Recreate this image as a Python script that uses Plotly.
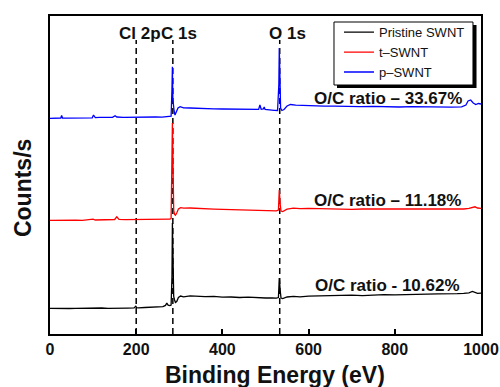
import plotly.graph_objects as go

# XPS survey spectra of the three SWNT samples (vertically offset, arbitrary counts)
pristine_x = [0, 15, 30, 45, 60, 75, 90, 105, 120, 135, 150, 165, 180, 195, 199, 201, 205, 220, 235, 250,
              262, 268, 271, 274, 278, 281, 283, 284, 285, 286, 287, 289, 291, 294, 298, 303, 310, 325, 340,
              360, 380, 400, 420, 440, 460, 480, 500, 515, 525, 530, 532, 534, 536, 540, 550, 565, 580, 600,
              625, 650, 675, 700, 725, 750, 775, 800, 825, 850, 875, 900, 925, 945, 960, 972, 980, 986, 992, 1000]
pristine_y = [25.6, 25.4, 25.8, 25.5, 25.7, 25.9, 25.6, 25.8, 26.0, 25.7, 26.0, 26.2, 25.9, 26.1, 27.8, 26.4,
              26.2, 26.5, 26.8, 26.7, 27.3, 28.6, 31.0, 28.8, 28.4, 29.0, 58.0, 111.0, 70.0, 45.0, 37.5, 34.0,
              31.5, 32.5, 36.5, 38.0, 37.2, 38.1, 37.6, 37.3, 37.7, 36.9, 37.0, 36.5, 36.8, 36.3, 36.0, 36.2,
              35.8, 36.5, 56.0, 44.0, 36.0, 35.5, 37.0, 37.6, 37.2, 37.9, 38.3, 38.0, 38.6, 38.9, 38.4, 39.0,
              39.3, 39.1, 39.6, 39.4, 39.9, 40.1, 39.8, 40.3, 40.6, 41.2, 42.5, 41.8, 40.7, 40.9]

t_x = [0, 15, 30, 45, 60, 75, 90, 100, 105, 120, 135, 150, 155, 160, 175, 190, 205, 220, 235, 250, 265, 278,
       281, 283, 284, 285, 286, 287, 289, 291, 294, 298, 303, 310, 325, 340, 360, 380, 400, 420, 440, 460, 480,
       500, 515, 525, 530, 532, 534, 536, 540, 550, 565, 580, 600, 625, 650, 675, 700, 725, 750, 775, 800, 825,
       850, 875, 900, 925, 945, 960, 972, 980, 986, 992, 1000]
t_y = [113.7, 113.9, 113.6, 113.8, 113.9, 113.7, 114.0, 114.8, 114.0, 114.1, 114.2, 114.5, 117.2, 114.6, 114.4,
       114.5, 114.3, 114.6, 114.5, 114.7, 114.6, 114.8, 115.5, 160.0, 211.0, 180.0, 140.0, 124.0, 119.5, 118.8,
       121.0, 125.0, 126.3, 125.8, 126.0, 125.5, 125.2, 124.9, 124.6, 124.3, 124.0, 123.8, 123.9, 123.4, 123.5,
       123.2, 124.0, 144.0, 130.0, 123.0, 122.5, 124.8, 125.9, 125.4, 125.7, 125.3, 125.1, 124.8, 124.7, 125.0,
       124.9, 125.2, 125.0, 124.8, 125.1, 124.9, 125.0, 125.2, 124.8, 125.0, 125.6, 126.8, 127.2, 126.0, 125.7]

p_x = [0, 10, 20, 25, 27, 29, 40, 55, 70, 85, 98, 101, 103, 105, 115, 130, 145, 151, 155, 170, 185, 200, 215,
       230, 245, 260, 275, 281, 283, 284, 285, 286, 287, 288, 290, 293, 297, 302, 310, 325, 340, 360, 380, 400,
       420, 440, 460, 475, 484, 487, 490, 495, 497, 499, 510, 520, 528, 531, 532, 533, 535, 538, 543, 550, 558,
       570, 590, 610, 635, 660, 690, 720, 750, 780, 810, 840, 870, 900, 930, 955, 965, 970, 976, 982, 988, 994,
       1000]
p_y = [215.6, 215.8, 215.5, 216.0, 218.5, 216.0, 215.9, 216.0, 216.1, 215.9, 216.2, 219.0, 218.0, 216.4, 216.7,
       216.5, 216.6, 218.2, 217.0, 216.6, 216.8, 216.7, 216.9, 216.8, 217.0, 216.9, 217.1, 217.8, 245.0, 267.3,
       235.0, 226.0, 228.5, 223.0, 219.0, 221.5, 226.0, 227.3, 226.2, 226.0, 225.6, 225.8, 225.2, 225.0, 224.8,
       224.6, 224.4, 224.3, 224.6, 229.0, 224.8, 225.0, 227.0, 224.5, 223.8, 223.6, 223.5, 250.0, 286.0, 250.0,
       226.0, 223.5, 224.5, 228.0, 229.5, 228.8, 228.3, 228.0, 227.8, 227.9, 227.5, 227.3, 227.6, 227.2, 227.0,
       227.3, 226.9, 227.0, 226.8, 227.2, 229.0, 233.0, 234.0, 231.0, 229.5, 230.5, 230.0]

series_names = ["Pristine SWNT", "t\u2013SWNT", "p\u2013SWNT"]
series_colors = ["#000000", "#ff0000", "#0000ff"]

# Core-level reference energies (eV) and their labels
peak_energies = [200, 285, 533]
peak_labels = ["Cl 2p", "C 1s", "O 1s"]
peak_label_x = [208, 299, 550]

ratio_labels = ["O/C ratio - 10.62%", "O/C ratio \u2013 11.18%", "O/C ratio \u2013 33.67%"]
ratio_label_y = [0.151, 0.421, 0.742]

x_ticks = [0, 200, 400, 600, 800, 1000]

FONT = "Liberation Sans, Arial, sans-serif"
INK = "#111111"

fig = go.Figure()
for xs, ys, name, color in zip([pristine_x, t_x, p_x], [pristine_y, t_y, p_y], series_names, series_colors):
    fig.add_trace(go.Scatter(x=xs, y=ys, mode="lines", name=name,
                             line=dict(color=color, width=1.3)))

# Dashed guide lines at the core-level energies
for e in peak_energies:
    fig.add_shape(type="line", xref="x", yref="paper", x0=e, x1=e, y0=0, y1=0.9245,
                  line=dict(color="black", width=1.5, dash="6px,4px"), layer="below")

for lx, txt in zip(peak_label_x, peak_labels):
    fig.add_annotation(x=lx, xref="x", y=0.9456, yref="paper", text=txt, showarrow=False,
                       xanchor="center", yanchor="middle",
                       font=dict(family=FONT, size=17, color=INK, weight="bold"))

for ly, txt in zip(ratio_label_y, ratio_labels):
    fig.add_annotation(x=0.784, xref="paper", y=ly, yref="paper", text=txt, showarrow=False,
                       xanchor="center", yanchor="middle",
                       font=dict(family=FONT, size=17, color=INK, weight="bold"))

# Axis titles
fig.add_annotation(x=0.521, xref="paper", y=-0.128, yref="paper", text="Binding Energy (eV)",
                   showarrow=False, xanchor="center", yanchor="middle",
                   font=dict(family=FONT, size=23, color=INK, weight="bold"))
fig.add_annotation(x=-0.0626, xref="paper", y=0.459, yref="paper", text="Counts/s", textangle=-90,
                   showarrow=False, xanchor="center", yanchor="middle",
                   font=dict(family=FONT, size=23, color=INK, weight="bold"))

# Legend frame with drop shadow
fig.add_shape(type="rect", xref="paper", yref="paper", x0=0.6659, x1=0.9896, y0=0.7736, y1=0.9717,
              fillcolor="black", line=dict(width=0), layer="above")
fig.add_shape(type="rect", xref="paper", yref="paper", x0=0.6589, x1=0.9814, y0=0.7830, y1=0.9811,
              fillcolor="white", line=dict(color="black", width=1), layer="above")

fig.update_layout(
    width=500, height=387,
    margin=dict(l=50, r=19, t=16, b=53, autoexpand=False),
    paper_bgcolor="white", plot_bgcolor="white",
    showlegend=True,
    legend=dict(x=0.6705, y=0.996, xanchor="left", yanchor="top",
                bgcolor="rgba(0,0,0,0)", borderwidth=0,
                font=dict(family=FONT, size=13, color=INK),
                tracegroupgap=0, itemwidth=30),
    xaxis=dict(range=[0, 1000], tickvals=x_ticks, ticks="inside", ticklen=5, tickwidth=2,
               tickcolor="black", showline=True, linecolor="black", linewidth=2, mirror=True,
               showgrid=False, zeroline=False, automargin=False,
               tickfont=dict(family=FONT, size=16, color=INK, weight="bold")),
    yaxis=dict(range=[0, 318], showticklabels=False, ticks="", showline=True, linecolor="black",
               linewidth=2, mirror=True, showgrid=False, zeroline=False, automargin=False),
)

fig.write_html("out.html")
